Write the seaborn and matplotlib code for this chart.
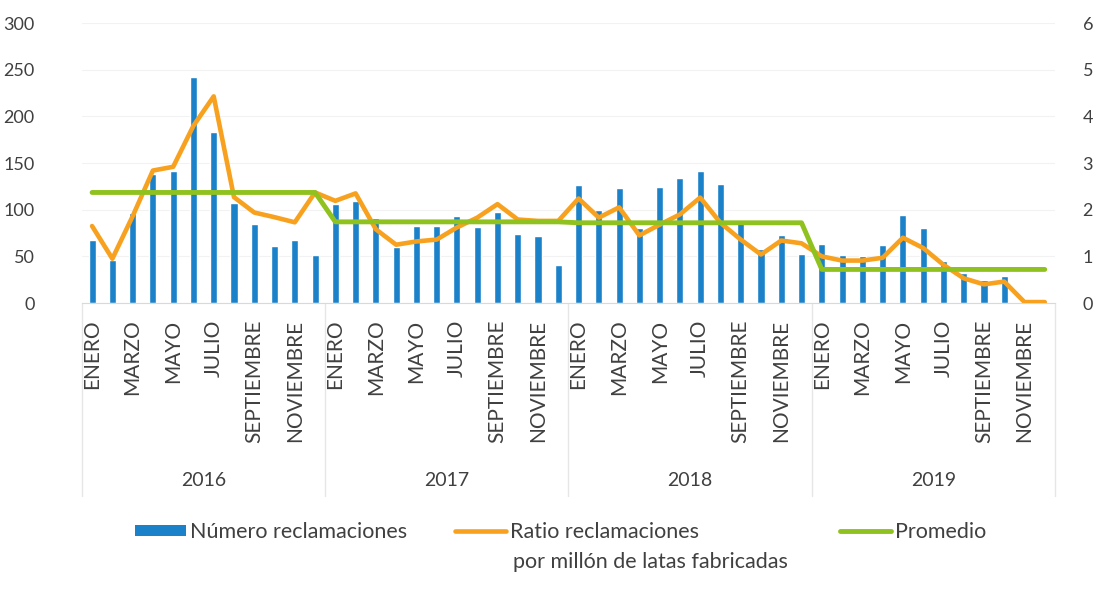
import numpy as np
import pandas as pd
import matplotlib
matplotlib.use('Agg')
import matplotlib.pyplot as plt
import matplotlib.transforms as mtransforms
from matplotlib.patches import Patch
from matplotlib.lines import Line2D
import seaborn as sns

sns.set_style('white')
plt.rcParams['font.family'] = ['Lato', 'DejaVu Sans']
plt.rcParams['text.color'] = '#404040'

# =============================================================================
# Data
# =============================================================================

years = ['2016', '2017', '2018', '2019']
months = ['ENERO', 'FEBRERO', 'MARZO', 'ABRIL', 'MAYO', 'JUNIO', 'JULIO',
          'AGOSTO', 'SEPTIEMBRE', 'OCTUBRE', 'NOVIEMBRE', 'DICIEMBRE']

reclamaciones = [68, 46, 96, 138, 142, 242, 183, 107, 85, 61, 68, 51,
                 106, 109, 91, 60, 83, 83, 93, 82, 98, 74, 72, 41,
                 126, 100, 123, 80, 124, 134, 142, 128, 88, 58, 73, 53,
                 63, 52, 50, 62, 94, 80, 45, 32, 25, 29, 0, 0]

ratio = [1.65, 0.95, 1.86, 2.84, 2.92, 3.80, 4.43, 2.27, 1.94, 1.84, 1.73, 2.37,
         2.19, 2.35, 1.58, 1.25, 1.32, 1.36, 1.62, 1.83, 2.12, 1.79, 1.76, 1.76,
         2.24, 1.83, 2.05, 1.45, 1.68, 1.90, 2.26, 1.72, 1.36, 1.04, 1.34, 1.28,
         1.00, 0.91, 0.91, 0.97, 1.40, 1.18, 0.82, 0.53, 0.40, 0.46, 0.02, 0.02]

promedio_anual = [2.37, 1.74, 1.72, 0.72]

df = pd.DataFrame({
    'idx': np.arange(len(years) * len(months)),
    'Año': np.repeat(years, len(months)),
    'Mes': months * len(years),
    'Reclamaciones': reclamaciones,
    'Ratio': ratio,
    'Promedio': np.repeat(promedio_anual, len(months)),
})

blue = '#1B82C9'
orange = '#F7A11E'
green = '#8FC21E'
txt = '#404040'

# =============================================================================
# Plot
# =============================================================================

fig = plt.figure(figsize=(11, 5.93), dpi=100)
ax = fig.add_axes([0.0745, 0.489, 0.8845, 0.472])

sns.barplot(data=df, x='idx', y='Reclamaciones', color=blue, width=0.35,
            saturation=1, ax=ax)
ax.set_ylim(0, 300)
ax.set_yticks(range(0, 301, 50))
ax.set_xlim(-0.5, len(df) - 0.5)
ax.grid(axis='y', color='#f2f2f2', lw=0.8)
ax.set_axisbelow(True)

ax2 = ax.twinx()
sns.lineplot(data=df, x='idx', y='Ratio', color=orange, lw=3.3, ax=ax2)
sns.lineplot(data=df, x='idx', y='Promedio', color=green, lw=3.5, ax=ax2)
ax2.set_ylim(0, 6)
ax2.set_yticks(range(0, 7))
ax2.set_xlim(-0.5, len(df) - 0.5)

# x ticks: every other month
ax.set_xticks(df['idx'][::2])
ax.set_xticklabels(df['Mes'][::2], rotation=90, fontsize=15, color=txt)
ax.tick_params(axis='x', length=0, pad=12)
ax.tick_params(axis='y', length=0, pad=34, labelsize=13, labelcolor=txt)
ax2.tick_params(axis='y', length=0, pad=20, labelsize=13, labelcolor=txt)
for a in (ax, ax2):
    a.set_xlabel('')
    a.set_ylabel('')
    for s in ['left', 'right', 'top', 'bottom']:
        a.spines[s].set_visible(False)
ax.spines['bottom'].set_visible(True)
ax.spines['bottom'].set_color('#d9d9d9')

# year groups below the month labels
trans = mtransforms.blended_transform_factory(ax.transData, ax.transAxes)
n = len(months)
for i, yr in enumerate(years):
    ax.text(i * n + (n - 1) / 2, -0.635, yr, transform=trans, ha='center',
            va='center', fontsize=14, color=txt)
for i in range(len(years) + 1):
    ax.plot([i * n - 0.5] * 2, [0, -0.69], transform=trans, color='#e6e6e6',
            lw=1, clip_on=False)

# legend, one entry at a time so the two-line label hangs from its first line
items = [
    (Patch(facecolor=blue, edgecolor='none'), 'Número reclamaciones', 135),
    (Line2D([], [], color=orange, lw=3.3), 'Ratio reclamaciones', 455),
    (Line2D([], [], color=green, lw=3.5), 'Promedio', 840),
]
for h, lab, x0 in items:
    fig.legend([h], [lab], loc='center left',
               bbox_to_anchor=(x0 / 1100, 1 - 532 / 593), frameon=False,
               fontsize=15.5, handlelength=2.35, handletextpad=0.2,
               borderpad=0, borderaxespad=0, handleheight=0.45)
fig.text(513 / 1100, 1 - 562 / 593, 'por millón de latas fabricadas',
         fontsize=15.5, va='center', ha='left', color=txt)

fig.savefig('out.png', dpi=100)
